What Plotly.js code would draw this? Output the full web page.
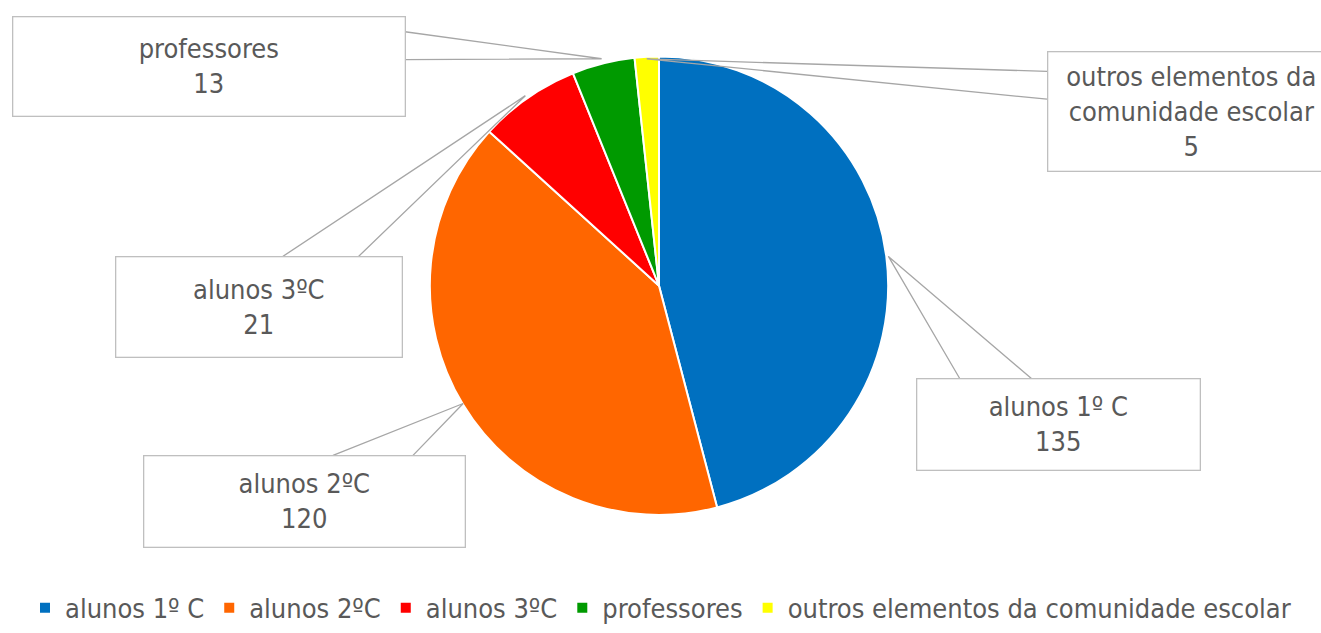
<!DOCTYPE html>
<html>
<head>
<meta charset="utf-8">
<script src="https://cdn.plot.ly/plotly-3.0.1.min.js"></script>
<style>html,body{margin:0;padding:0;background:#fff;}#chart{width:1321px;height:633px;}</style>
</head>
<body>
<div id="chart"></div>
<script>
// ---- data ----
const categories = ["alunos 1º C", "alunos 2ºC", "alunos 3ºC", "professores", "outros elementos da comunidade escolar"];
const boxLabels = ["alunos 1º C", "alunos 2ºC", "alunos 3ºC", "professores", "outros elementos da<br>comunidade escolar"];
const values = [135, 120, 21, 13, 5];
const colors = ["#0070C0", "#FF6600", "#FF0000", "#009A00", "#FFFF00"];

// ---- layout constants (pixels) ----
const W = 1321, H = 633;
const CX = 659, CY = 288, R = 229;
const FONT = "'Liberation Sans Narrow', 'DejaVu Sans Condensed', sans-serif";
const TXT = "#595959";
// callout boxes: [x0, y0, x1, y1], plus two attachment points on the box edge
const boxes = [
  {b: [916, 382, 1200, 474], a: [[960, 382], [1032, 382]], k: 1.01},
  {b: [143, 459, 465, 551], a: [[333, 459], [413, 459]], k: 1.0},
  {b: [115, 259, 402, 360], a: [[282, 259], [358, 259]], k: 1.02},
  {b: [12, 17, 405, 117], a: [[405, 32], [405, 60]], k: 1.03},
  {b: [1047, 52, 1335, 172], a: [[1047, 72], [1047, 100]], k: 1.0}
];

const px = x => x / W;
const py = y => 1 - y / H;

const total = values.reduce((s, v) => s + v, 0);
let cum = 0;
const shapes = [], annotations = [];
values.forEach((v, i) => {
  const mid = (cum + v / 2) / total * 2 * Math.PI;
  cum += v;
  const bx = boxes[i];
  const tx = CX + R * bx.k * Math.sin(mid);
  const ty = CY - R * bx.k * Math.cos(mid);
  const p1 = bx.a[0], p2 = bx.a[1];
  shapes.push({
    type: 'path', xref: 'paper', yref: 'paper',
    path: `M ${px(p1[0])} ${py(p1[1])} L ${px(tx)} ${py(ty)} L ${px(p2[0])} ${py(p2[1])}`,
    line: {color: '#A6A6A6', width: 1.3}
  });
  const [x0, y0, x1, y1] = bx.b;
  annotations.push({
    xref: 'paper', yref: 'paper',
    x: px((x0 + x1) / 2), y: py((y0 + y1) / 2),
    xanchor: 'center', yanchor: 'middle',
    width: x1 - x0 - 2, height: y1 - y0 - 2,
    borderpad: 0, borderwidth: 1.3, bordercolor: '#BFBFBF', bgcolor: '#FFFFFF',
    showarrow: false,
    text: boxLabels[i] + '<br>' + v,
    font: {family: FONT, size: 27, color: TXT},
    align: 'center'
  });
});

const RD = R + 2; // domain half-size (plotly draws the pie slightly inside its domain)
const trace = {
  type: 'pie',
  labels: categories,
  values: values,
  sort: false,
  direction: 'clockwise',
  rotation: 0,
  textinfo: 'none',
  hoverinfo: 'label+value',
  marker: {colors: colors, line: {color: '#FFFFFF', width: 2}},
  domain: {x: [px(CX - RD), px(CX + RD)], y: [py(CY + RD), py(CY - RD)]}
};

const layout = {
  width: W, height: H,
  margin: {l: 0, r: 0, t: 0, b: 0},
  paper_bgcolor: '#FFFFFF',
  showlegend: true,
  legend: {
    orientation: 'h', x: 0.5, xanchor: 'center', y: py(613), yanchor: 'middle',
    font: {family: FONT, size: 27, color: TXT}, itemwidth: 30, traceorder: 'normal'
  },
  shapes: shapes,
  annotations: annotations
};

Plotly.newPlot('chart', [trace], layout, {staticPlot: true});
</script>
</body>
</html>
